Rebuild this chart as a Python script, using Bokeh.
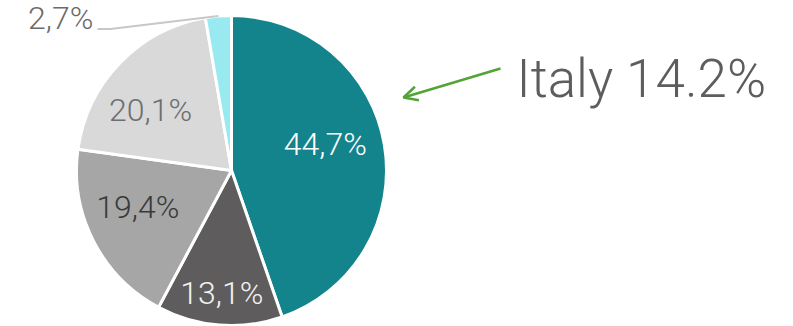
import math
from bokeh.plotting import figure
from bokeh.models import ColumnDataSource, Range1d, Arrow, OpenHead, Label
from bokeh.core.properties import value
from bokeh.embed import file_html
from bokeh.resources import INLINE

# ---- data ----
shares = [44.7, 13.1, 19.4, 20.1, 2.7]
share_labels = ["44,7%", "13,1%", "19,4%", "20,1%", "2,7%"]
colors = ["#13848C", "#5E5C5D", "#A6A6A6", "#D9D9D9", "#98E9F0"]
label_colors = ["#FFFFFF", "#F2F2F2", "#3A3A3A", "#6E6E6E", "#6B6B6B"]
label_radius_frac = [0.63, 0.79, 0.65, 0.65]
label_angle_shift_deg = [6.5, 0.0, -5.5, 7.5]
callout_text = "Italy 14.2%"

W, H = 785, 326
cx, cy, R = 231, H - 170, 155

p = figure(width=W, height=H, output_backend="svg", toolbar_location=None,
           x_range=Range1d(0, W), y_range=Range1d(0, H), min_border=0)
p.axis.visible = False
p.grid.visible = False
p.outline_line_color = None
p.background_fill_color = "white"
p.border_fill_color = "white"

total = sum(shares)
starts, ends, mids = [], [], []
cum = 0.0
for v in shares:
    a0 = math.pi / 2 - cum / total * 2 * math.pi
    cum += v
    a1 = math.pi / 2 - cum / total * 2 * math.pi
    starts.append(a0)
    ends.append(a1)
    mids.append((a0 + a1) / 2)

src = ColumnDataSource(dict(start=starts, end=ends, color=colors))
p.wedge(x=cx, y=cy, radius=R, start_angle="start", end_angle="end",
        direction="clock", fill_color="color", line_color="white",
        line_width=3, source=src)

# inside labels
lx, ly, lt, lc = [], [], [], []
for i in range(4):
    r = R * label_radius_frac[i]
    a = mids[i] + math.radians(label_angle_shift_deg[i])
    lx.append(cx + r * math.cos(a))
    ly.append(cy + r * math.sin(a))
    lt.append(share_labels[i])
    lc.append(label_colors[i])
p.text(x=lx, y=ly, text=lt, text_color=lc, text_align="center",
       text_baseline="middle", text_font=value("Roboto Light"),
       text_font_size="32px")

# small slice leader line + label
ex = cx + R * math.cos(mids[4])
ey = cy + R * math.sin(mids[4])
p.line(x=[ex, ex - 108, ex - 121], y=[ey, ey - 13, ey - 13],
       line_color="#C8C8C8", line_width=2)
p.text(x=[ex - 125], y=[ey - 2], text=[share_labels[4]],
       text_color=label_colors[4], text_align="right",
       text_baseline="middle", text_font=value("Roboto Light"),
       text_font_size="32px")

# callout
p.add_layout(Arrow(end=OpenHead(size=14, line_color="#52A435", line_width=2.5),
                   x_start=500, y_start=H - 68, x_end=403, y_end=H - 97,
                   line_color="#52A435", line_width=2.5))
p.add_layout(Label(x=516, y=H - 78, text=callout_text, text_color="#5E5C5D",
                   text_font="Roboto Light", text_font_size="53px",
                   text_baseline="alphabetic"))

open("out.html", "w").write(file_html(p, INLINE))
